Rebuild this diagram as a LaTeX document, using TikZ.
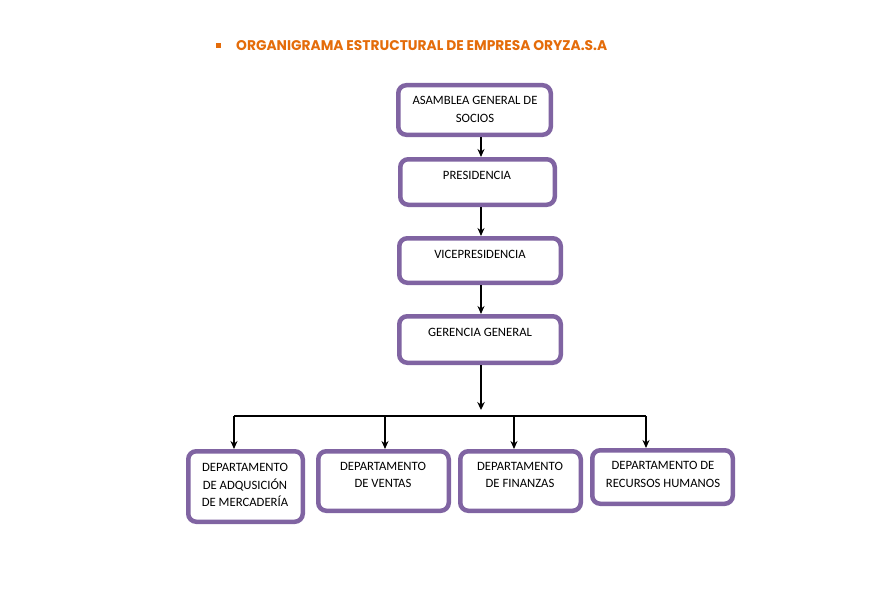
\documentclass[tikz,border=0pt]{standalone}
\usepackage{fontspec}
\setmainfont{Carlito}
\newfontfamily\titlefont{Poppins}
\usetikzlibrary{arrows.meta}
\definecolor{boxpurple}{HTML}{8064A2}
\definecolor{titleorange}{HTML}{E46C0A}
\tikzset{
  orgbox/.style={draw=boxpurple, line width=4.5pt, rounded corners=8pt, fill=white, inner sep=0pt},
  boxtext/.style={font=\fontsize{12.7}{17.5}\selectfont, align=center, inner sep=0pt, text=black},
  arr/.style={line width=1.8pt, -{Stealth[length=8pt,width=7pt]}},
  bigarr/.style={line width=2.5pt, -{Stealth[length=8pt,width=7.5pt]}},
  hline/.style={line width=1.8pt}
}
\begin{document}
\begin{tikzpicture}[x=1pt,y=-1pt]
\useasboundingbox (0,0) rectangle (885,599);
% title
\node[fill=titleorange, minimum size=5pt, inner sep=0pt] (bullet) at (218.5,46) {};
\node[anchor=west, inner sep=0pt, text=titleorange] (title) at (236,46)
  {\resizebox{371pt}{10pt}{\titlefont\bfseries ORGANIGRAMA ESTRUCTURAL DE EMPRESA ORYZA.S.A}};
% boxes
\node[orgbox, minimum width=152.5pt, minimum height=49.5pt] (asm) at (474.5,110) {};
\node[orgbox, minimum width=154.5pt, minimum height=45.5pt] (pres) at (477.5,182) {};
\node[orgbox, minimum width=161.5pt, minimum height=44.5pt] (vice) at (480,260.5) {};
\node[orgbox, minimum width=161.5pt, minimum height=46.5pt] (ger) at (480,339.5) {};
\node[orgbox, minimum width=114.5pt, minimum height=70.5pt] (adq) at (245.5,486.5) {};
\node[orgbox, minimum width=130.5pt, minimum height=59.5pt] (ven) at (383.5,481) {};
\node[orgbox, minimum width=120.5pt, minimum height=59.5pt] (fin) at (520.5,481) {};
\node[orgbox, minimum width=140.5pt, minimum height=53.5pt] (rrhh) at (662.5,477) {};
% texts
\node[boxtext] (tasm) at (475,109.5) {ASAMBLEA GENERAL DE\\SOCIOS};
\node[boxtext] (tpres) at (477,175) {PRESIDENCIA};
\node[boxtext] (tvice) at (480,254) {VICEPRESIDENCIA};
\node[boxtext] (tger) at (480,332) {GERENCIA GENERAL};
\node[boxtext] (tadq) at (245,485) {DEPARTAMENTO\\DE ADQUSICIÓN\\DE MERCADERÍA};
\node[boxtext] (tven) at (383,475) {DEPARTAMENTO\\DE VENTAS};
\node[boxtext] (tfin) at (520,475) {DEPARTAMENTO\\DE FINANZAS};
\node[boxtext] (trrhh) at (663,474.5) {DEPARTAMENTO DE\\RECURSOS HUMANOS};
% helper coordinates
\coordinate (c1) at (481,0);
\coordinate (c2) at (481,0);
\coordinate (bar) at (0,416);
\coordinate (split) at (481,410);
\coordinate (xa) at (234,0);
\coordinate (xv) at (385,0);
\coordinate (xf) at (514,0);
\coordinate (xr) at (646,0);
% connectors
\draw[arr] (asm.south -| c1) -- (pres.north -| c1);
\draw[arr] (pres.south -| c2) -- (vice.north -| c2);
\draw[arr] (vice.south -| c2) -- (ger.north -| c2);
\draw[bigarr] (ger.south -| c2) -- (split);
\draw[hline] (bar -| xa) -- (bar -| xr);
\draw[arr] (bar -| xa) -- (adq.north -| xa);
\draw[arr] (bar -| xv) -- (ven.north -| xv);
\draw[arr] (bar -| xf) -- (fin.north -| xf);
\draw[arr] (bar -| xr) -- (rrhh.north -| xr);
\end{tikzpicture}
\end{document}
